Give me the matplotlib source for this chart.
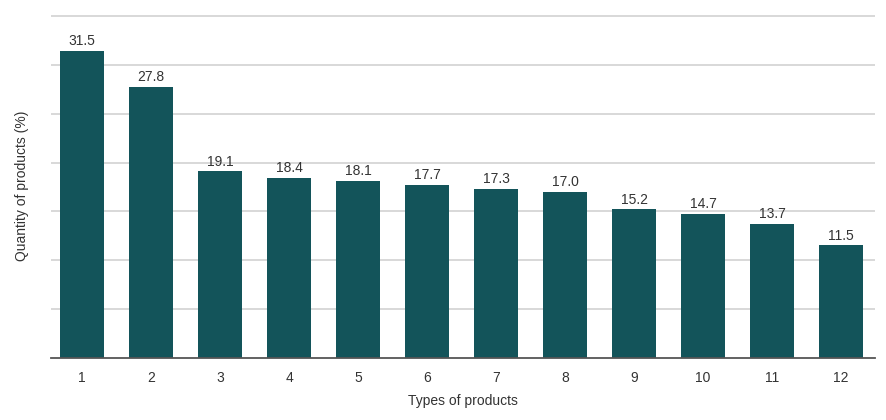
import matplotlib.pyplot as plt

plt.rcParams['font.family'] = ['Liberation Sans', 'DejaVu Sans']

types = ['1', '2', '3', '4', '5', '6', '7', '8', '9', '10', '11', '12']
quantity = [31.5, 27.8, 19.1, 18.4, 18.1, 17.7, 17.3, 17.0, 15.2, 14.7, 13.7, 11.5]

bar_color = '#13545a'
text_color = '#333333'

fig = plt.figure(figsize=(8.86, 4.2), dpi=100)
fig.set_facecolor('white')
ax = fig.add_axes([51 / 886, 1 - 357.5 / 420, 824 / 886, 343 / 420])

x = list(range(1, len(types) + 1))
bars = ax.bar(x, quantity, width=0.64, color=bar_color, zorder=3)
ax.bar_label(bars, labels=[f'{v:.1f}' for v in quantity], padding=2,
             fontsize=10, color=text_color)

ax.set_xlim(0.55, 12.49)
ax.set_ylim(0, 35.2)
ax.set_yticks([5, 10, 15, 20, 25, 30, 35])
ax.set_yticklabels([])
ax.tick_params(axis='y', length=0)
ax.tick_params(axis='x', length=0, pad=10, labelsize=10, labelcolor=text_color)
ax.set_xticks(x)
ax.set_xticklabels(types)
ax.grid(axis='y', color='#d8d8d8', linewidth=1.4, zorder=0)

for s in ['top', 'right', 'left']:
    ax.spines[s].set_visible(False)
ax.spines['bottom'].set_color('#555555')
ax.spines['bottom'].set_linewidth(1.3)
ax.spines['bottom'].set_zorder(4)

ax.set_xlabel('Types of products', fontsize=10, color=text_color, labelpad=6)
ax.set_ylabel('Quantity of products (%)', fontsize=10, color=text_color, labelpad=12)

fig.savefig('out.png', dpi=100, facecolor='white')
